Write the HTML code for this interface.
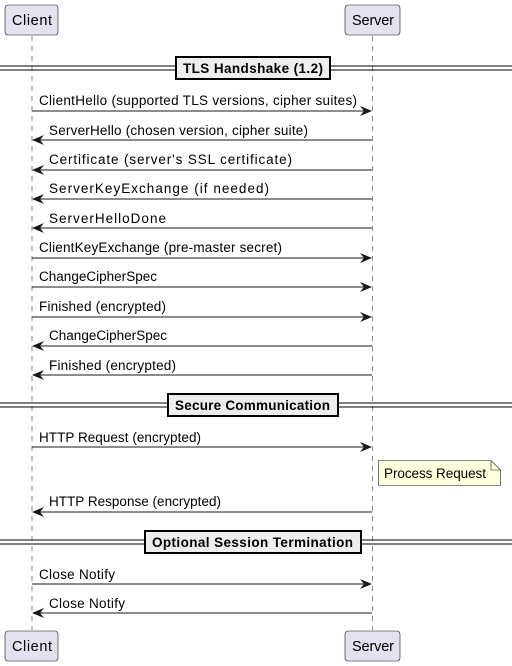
<!DOCTYPE html>
<html><head><meta charset="utf-8"><style>
html,body{margin:0;padding:0;background:#fff;}
svg{display:block;font-family:"Liberation Sans",sans-serif;}
</style></head><body>
<svg width="512" height="666" viewBox="0 0 512 666" xmlns="http://www.w3.org/2000/svg">
<g stroke="#888" stroke-dasharray="5,5" stroke-width="1">
<line x1="32" y1="36" x2="32" y2="630"/>
<line x1="372.5" y1="36" x2="372.5" y2="630"/>
</g>
<g fill="#E2E2F0" stroke="#181818" stroke-width="0.6">
<rect x="5" y="5" width="53" height="30" rx="3"/>
<rect x="345" y="5" width="55" height="30" rx="3"/>
<rect x="5" y="631" width="53" height="30" rx="3"/>
<rect x="345" y="631" width="55" height="30" rx="3"/>
</g>
<g font-size="14.5" fill="#000">
<text x="12" y="25" textLength="40">Client</text>
<text x="352" y="25" textLength="42">Server</text>
<text x="12" y="651" textLength="40">Client</text>
<text x="352" y="651" textLength="42">Server</text>
</g>
<g stroke="#000" stroke-width="1">
<line x1="0" y1="66" x2="512" y2="66"/><line x1="0" y1="70" x2="512" y2="70"/>
<line x1="0" y1="403" x2="512" y2="403"/><line x1="0" y1="407" x2="512" y2="407"/>
<line x1="0" y1="540" x2="512" y2="540"/><line x1="0" y1="544" x2="512" y2="544"/>
</g>
<g fill="#EEEEEE" stroke="#000" stroke-width="2">
<rect x="176" y="57" width="154" height="22"/>
<rect x="168" y="394" width="170" height="22"/>
<rect x="145" y="531" width="216" height="22"/>
</g>
<g font-size="13.5" font-weight="bold" fill="#000">
<text x="183" y="73" textLength="140">TLS Handshake (1.2)</text>
<text x="175" y="410" textLength="155">Secure Communication</text>
<text x="152" y="547" textLength="201">Optional Session Termination</text>
</g>
<g stroke="#181818" stroke-width="1">
<line x1="32" y1="111" x2="371" y2="111"/>
<line x1="34" y1="140" x2="372" y2="140"/>
<line x1="34" y1="170" x2="372" y2="170"/>
<line x1="34" y1="199" x2="372" y2="199"/>
<line x1="34" y1="228" x2="372" y2="228"/>
<line x1="32" y1="258" x2="371" y2="258"/>
<line x1="32" y1="287" x2="371" y2="287"/>
<line x1="32" y1="317" x2="371" y2="317"/>
<line x1="34" y1="346" x2="372" y2="346"/>
<line x1="34" y1="375" x2="372" y2="375"/>
<line x1="32" y1="447" x2="371" y2="447"/>
<line x1="34" y1="512" x2="372" y2="512"/>
<line x1="32" y1="584" x2="371" y2="584"/>
<line x1="34" y1="613" x2="372" y2="613"/>
</g>
<g fill="#181818">
<path d="M372,111 l-12,-5 l4,5 l-4,5z"/>
<path d="M32,140 l12,-5 l-4,5 l4,5z"/>
<path d="M32,170 l12,-5 l-4,5 l4,5z"/>
<path d="M32,199 l12,-5 l-4,5 l4,5z"/>
<path d="M32,228 l12,-5 l-4,5 l4,5z"/>
<path d="M372,258 l-12,-5 l4,5 l-4,5z"/>
<path d="M372,287 l-12,-5 l4,5 l-4,5z"/>
<path d="M372,317 l-12,-5 l4,5 l-4,5z"/>
<path d="M32,346 l12,-5 l-4,5 l4,5z"/>
<path d="M32,375 l12,-5 l-4,5 l4,5z"/>
<path d="M372,447 l-12,-5 l4,5 l-4,5z"/>
<path d="M32,512 l12,-5 l-4,5 l4,5z"/>
<path d="M372,584 l-12,-5 l4,5 l-4,5z"/>
<path d="M32,613 l12,-5 l-4,5 l4,5z"/>
</g>
<g font-size="13.5" fill="#000">
<text x="39" y="105" textLength="318">ClientHello (supported TLS versions, cipher suites)</text>
<text x="49" y="135" textLength="259">ServerHello (chosen version, cipher suite)</text>
<text x="49" y="164" textLength="243">Certificate (server's SSL certificate)</text>
<text x="49" y="193" textLength="220">ServerKeyExchange (if needed)</text>
<text x="49" y="223" textLength="117">ServerHelloDone</text>
<text x="39" y="252" textLength="243">ClientKeyExchange (pre-master secret)</text>
<text x="39" y="281" textLength="118">ChangeCipherSpec</text>
<text x="39" y="311" textLength="127">Finished (encrypted)</text>
<text x="49" y="340" textLength="118">ChangeCipherSpec</text>
<text x="49" y="370" textLength="127">Finished (encrypted)</text>
<text x="39" y="442" textLength="162">HTTP Request (encrypted)</text>
<text x="49" y="506" textLength="172">HTTP Response (encrypted)</text>
<text x="39" y="579" textLength="76">Close Notify</text>
<text x="49" y="608" textLength="76">Close Notify</text>
</g>
<path d="M378.5,460.5 H491 L500.5,470 V485.5 H378.5 Z" fill="#FEFFDD" stroke="#181818" stroke-width="0.6"/>
<path d="M491,460.5 V470 H500.5" fill="none" stroke="#181818" stroke-width="0.6"/>
<text x="384" y="478" font-size="13.5" textLength="102">Process Request</text>
</svg>
</body></html>
